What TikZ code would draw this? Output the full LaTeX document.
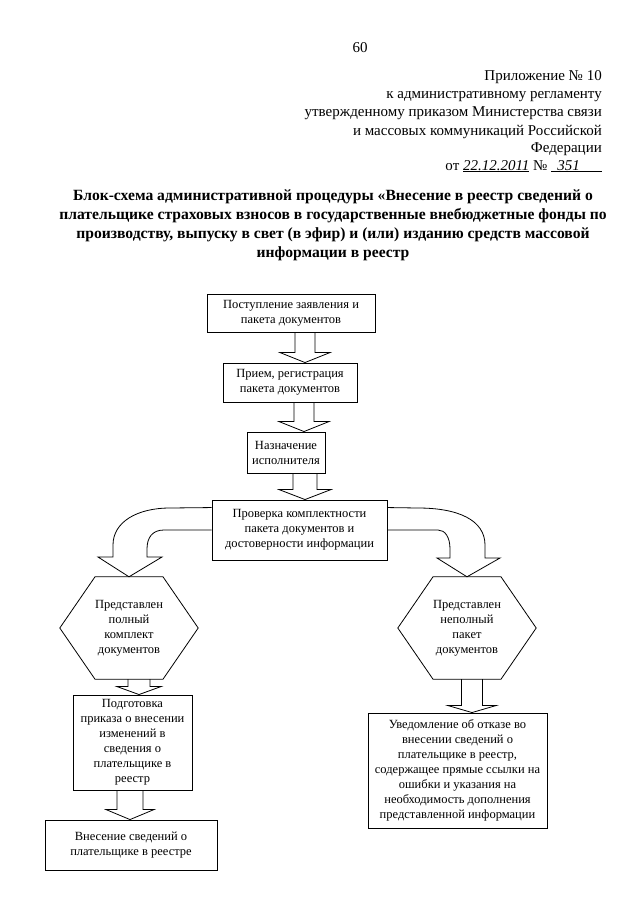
\documentclass[tikz,border=0pt]{standalone}
\usepackage{fontspec}
\setmainfont{Liberation Serif}
\usetikzlibrary{calc}
\newcommand\boxfont{\fontsize{12.5}{15}\selectfont}
\newcommand\headfont{\fontsize{15}{18}\selectfont}
\newcommand\titlefont{\fontsize{15.6}{19}\selectfont\bfseries}
\newcommand\barr[6]{%
  \draw[barrow] let \p1=#2, \p2=#3 in
   (#1pt-#4pt,\y1) -- (#1pt-#4pt,\y2+#6pt) -- (#1pt-#5pt,\y2+#6pt) -- (#1pt,\y2)
   -- (#1pt+#5pt,\y2+#6pt) -- (#1pt+#4pt,\y2+#6pt) -- (#1pt+#4pt,\y1);}
\begin{document}
\begin{tikzpicture}[x=1pt,y=-1pt,
  box/.style={draw,line width=0.9pt,align=center,inner sep=0pt,font=\boxfont},
  hextext/.style={align=center,inner sep=0pt,font=\boxfont},
  hexline/.style={line width=0.8pt,line join=miter},
  barrow/.style={line width=0.8pt,line join=miter},
  head/.style={anchor=base east,inner sep=0pt,font=\headfont},
  ttl/.style={anchor=base,inner sep=0pt,font=\titlefont}]
\useasboundingbox (0,0) rectangle (640,905);
\fill[white] (0,0) rectangle (640,905);

% header
\node[anchor=base,inner sep=0pt,font=\headfont] (pg) at (360,52) {60};
\node[head] (h1l) at (602,80) {Приложение № 10};
\node[head] (h2l) at (602,98) {к административному регламенту};
\node[head] (h3l) at (602,116.5) {утвержденному приказом Министерства связи};
\node[head] (h4l) at (602,135) {и массовых коммуникаций Российской};
\node[head] (h5l) at (602,152.5) {Федерации};
\node[head] (h6l) at (602,170) {от \underline{\textit{22.12.2011}} № \underline{\hspace{6pt}\textit{351}\hspace{22pt}}};

% title
\node[ttl] (t1) at (333,200) {Блок-схема административной процедуры «Внесение в реестр сведений о};
\node[ttl] (t2) at (333,219.5) {плательщике страховых взносов в государственные внебюджетные фонды по};
\node[ttl] (t3) at (333,238) {производству, выпуску в свет (в эфир) и (или) изданию средств массовой};
\node[ttl] (t4) at (333,257) {информации в реестр};

% boxes
\node[box,minimum width=168pt,minimum height=38pt] (b1) at (291,313) {Поступление заявления и\\пакета документов};
\node[box,minimum width=134pt,minimum height=39pt] (b2) at (290,382.5) {Прием, регистрация\\пакета документов};
\node[box,minimum width=78pt,minimum height=41pt] (b3) at (286,452.5) {Назначение\\исполнителя};
\node[box,minimum width=175pt,minimum height=60pt] (b4) at (299.5,530) {Проверка комплектности\\пакета документов и\\достоверности информации};
\node[hextext,minimum width=138pt,minimum height=102pt] (hx1) at (129,628) {Представлен\\полный\\комплект\\документов};
\node[hextext,minimum width=138pt,minimum height=102pt] (hx2) at (467,628) {Представлен\\неполный\\пакет\\документов};
\node[box,minimum width=119pt,minimum height=95pt] (b5) at (132.5,742.5) {Подготовка\\приказа о внесении\\изменений в\\сведения о\\плательщике в\\реестр};
\node[box,minimum width=172pt,minimum height=50pt] (b6) at (131,845) {Внесение сведений о\\плательщике в реестре};
\node[box,minimum width=179pt,minimum height=115pt] (b7) at (457.5,770.5) {Уведомление об отказе во\\внесении сведений о\\плательщике в реестр,\\содержащее прямые ссылки на\\ошибки и указания на\\необходимость дополнения\\представленной информации};

% hexagons
\foreach \h in {hx1,hx2}{
\draw[hexline] (\h.west) -- ([xshift=-34pt]\h.north) -- ([xshift=34pt]\h.north) -- (\h.east)
  -- ([xshift=34pt]\h.south) -- ([xshift=-34pt]\h.south) -- cycle;}

% straight block arrows
\barr{305}{(b1.south)}{(b2.north)}{10}{25}{10}
\barr{304}{(b2.south)}{(b3.north)}{10}{25}{10}
\barr{305}{(b3.south)}{(b4.north)}{12}{26}{10}
\barr{139}{(hx1.south)}{(b5.north)}{11}{22}{8}
\barr{130}{(b5.south)}{(b6.north)}{13}{24}{10}
\barr{472}{(hx2.south)}{(b7.north)}{10.5}{24}{7}

% curved block arrows
\draw[barrow] ([yshift=-8pt]b4.north west) -- (170,508) .. controls (137,508) and (113,522) .. (113,545)
  -- (113,557) -- (98,557) -- (hx1.north) -- (162,557) -- (147,557) -- (147,549)
  .. controls (147,538) and (152,530) .. (164,530) -- (b4.west);
\draw[barrow] ([yshift=-8pt]b4.north east) -- (418,508) .. controls (458,508) and (485,520) .. (485,545)
  -- (485,558) -- (500,558) -- (hx2.north) -- (437,558) -- (450,558) -- (450,549)
  .. controls (450,537) and (445,530) .. (438,530) -- (b4.east);
\end{tikzpicture}
\end{document}
